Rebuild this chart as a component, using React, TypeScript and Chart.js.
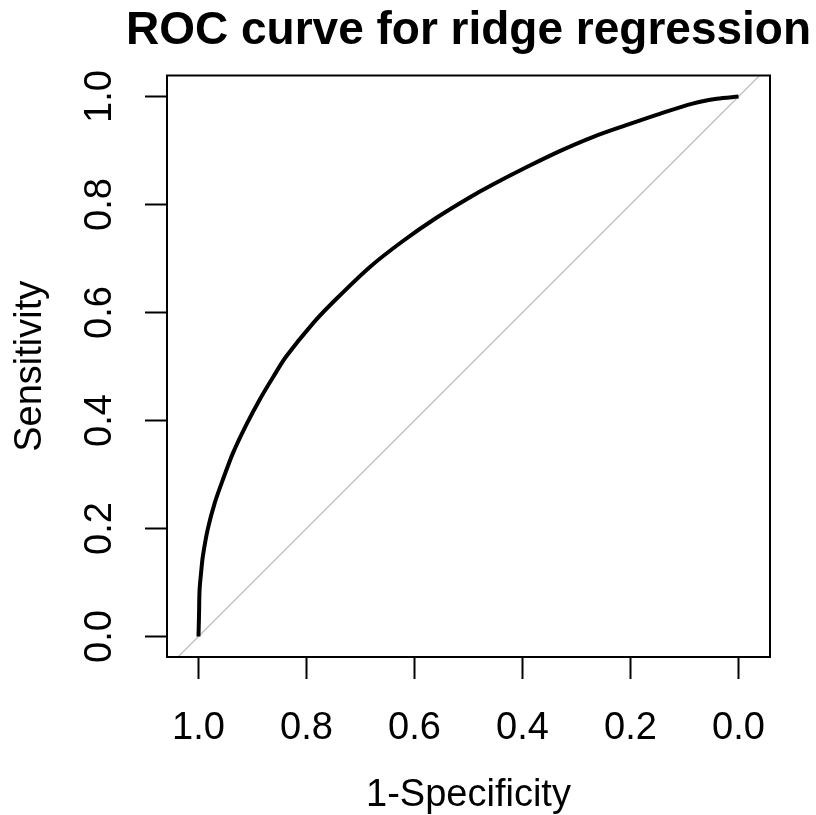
import React, { useEffect, useRef } from "react";
import { Chart, registerables } from "chart.js";

Chart.register(...registerables);

// ROC curve readings (specificity on the reversed x axis, sensitivity on y)
const specificity = [
  1.0, 0.999, 0.998, 0.995, 0.992, 0.983, 0.97, 0.955, 0.936, 0.912, 0.887,
  0.862, 0.838, 0.788, 0.745, 0.683, 0.622, 0.56, 0.498, 0.455, 0.393, 0.331,
  0.27, 0.208, 0.146, 0.085, 0.04, 0.0,
];
const sensitivity = [
  0.0, 0.04, 0.086, 0.12, 0.148, 0.198, 0.247, 0.29, 0.34, 0.391, 0.438,
  0.48, 0.518, 0.58, 0.625, 0.684, 0.732, 0.775, 0.813, 0.837, 0.869, 0.899,
  0.925, 0.947, 0.968, 0.987, 0.996, 1.0,
];
// identity (chance) line, clipped to the plot region
const diagX = [1.2, -0.2];
const diagY = [-0.2, 1.2];

const xTickValues = [1.0, 0.8, 0.6, 0.4, 0.2, 0.0];
const yTickValues = [0.0, 0.2, 0.4, 0.6, 0.8, 1.0];

const titleText = "ROC curve for ridge regression";
const xTitle = "1-Specificity";
const yTitle = "Sensitivity";

const FONT = "'Liberation Sans', Arial, Helvetica, sans-serif";

const boxPlugin = {
  id: "rBox",
  afterDatasetsDraw(chart: any) {
    const { ctx, chartArea } = chart;
    ctx.save();
    ctx.strokeStyle = "#000";
    ctx.lineWidth = 2;
    ctx.strokeRect(
      chartArea.left,
      chartArea.top,
      chartArea.right - chartArea.left,
      chartArea.bottom - chartArea.top
    );
    ctx.restore();
  },
};

// main title centred over the plot region (R style), drawn without width squeezing
const titlePlugin = {
  id: "rTitle",
  afterDraw(chart: any) {
    const { ctx, chartArea } = chart;
    ctx.save();
    ctx.fillStyle = "#000";
    ctx.font = `bold 46px ${FONT}`;
    ctx.textAlign = "center";
    ctx.textBaseline = "middle";
    ctx.fillText(titleText, (chartArea.left + chartArea.right) / 2, 31);
    ctx.restore();
  },
};

export default function App() {
  const ref = useRef<HTMLCanvasElement | null>(null);

  useEffect(() => {
    document.body.style.margin = "0";
    const canvas = ref.current;
    if (!canvas) return;
    const chart = new Chart(canvas, {
      type: "line",
      data: {
        datasets: [
          {
            label: "ROC",
            data: specificity.map((s, i) => ({ x: s, y: sensitivity[i] })),
            borderColor: "#000",
            borderWidth: 4,
            pointRadius: 0,
            tension: 0.3,
            fill: false,
          },
          {
            label: "identity",
            data: diagX.map((x, i) => ({ x, y: diagY[i] })),
            borderColor: "#b8b8b8",
            borderWidth: 1.2,
            pointRadius: 0,
            tension: 0,
            fill: false,
          },
        ],
      },
      plugins: [boxPlugin, titlePlugin],
      options: {
        animation: false,
        responsive: false,
        devicePixelRatio: 1,
        layout: { padding: { left: 0, right: 46, top: 75.5, bottom: 0 } },
        plugins: {
          legend: { display: false },
          tooltip: { enabled: false },
          title: { display: false },
        },
        scales: {
          x: {
            type: "linear",
            reverse: true,
            min: -0.0583,
            max: 1.0583,
            afterBuildTicks: (s: any) => {
              s.ticks = xTickValues.map((v) => ({ value: v }));
            },
            afterFit: (s: any) => {
              s.height = 158;
            },
            grid: {
              display: true,
              drawOnChartArea: false,
              drawTicks: true,
              tickLength: 22,
              tickColor: "#000",
              tickWidth: 2,
            },
            border: { display: false },
            ticks: {
              autoSkip: false,
              maxRotation: 0,
              minRotation: 0,
              color: "#000",
              padding: 26.7,
              font: { family: FONT, size: 38, lineHeight: 1.2 },
              callback: (v: any) => Number(v).toFixed(1),
            },
            title: {
              display: true,
              text: xTitle,
              color: "#000",
              font: { family: FONT, size: 38, lineHeight: 1.2 },
              padding: { top: 0, bottom: -3.8 },
            },
          },
          y: {
            type: "linear",
            min: -0.038,
            max: 1.039,
            afterBuildTicks: (s: any) => {
              s.ticks = yTickValues.map((v) => ({ value: v }));
            },
            afterFit: (s: any) => {
              s.width = 167;
            },
            grid: {
              display: true,
              drawOnChartArea: false,
              drawTicks: true,
              tickLength: 22,
              tickColor: "#000",
              tickWidth: 2,
            },
            border: { display: false },
            ticks: {
              autoSkip: false,
              minRotation: 90,
              maxRotation: 90,
              crossAlign: "center",
              color: "#000",
              padding: 18,
              font: { family: FONT, size: 38, lineHeight: 1.2 },
              callback: (v: any) => Number(v).toFixed(1),
            },
            title: {
              display: true,
              text: yTitle,
              color: "#000",
              font: { family: FONT, size: 38, lineHeight: 1.2 },
              padding: { top: 7.5, bottom: 0 },
            },
          },
        },
      },
    } as any);
    return () => chart.destroy();
  }, []);

  return (
    <div style={{ position: "absolute", left: 0, top: 0, width: 816, height: 815, background: "#fff" }}>
      <canvas ref={ref} width={816} height={815} />
    </div>
  );
}
